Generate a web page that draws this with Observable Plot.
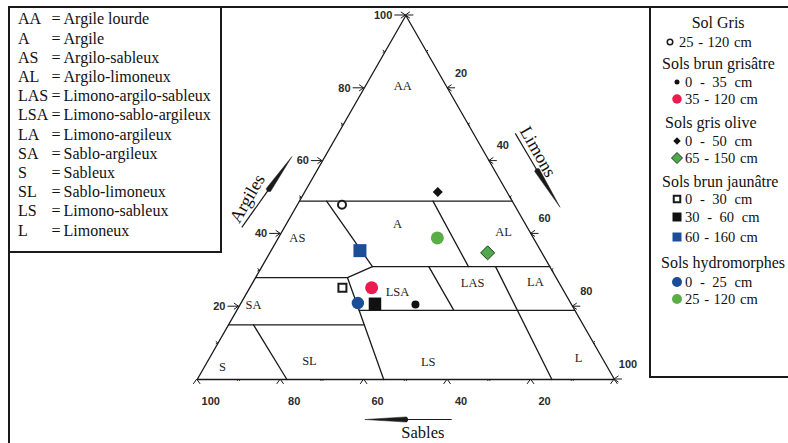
<!DOCTYPE html>
<html lang="fr">
<head>
<meta charset="utf-8">
<script src="https://cdn.jsdelivr.net/npm/d3@7"></script>
<script src="https://cdn.jsdelivr.net/npm/@observablehq/plot@0.6"></script>
<style>
  html, body { margin:0; padding:0; background:#fff; }
  #wrap { position:relative; width:788px; height:443px; overflow:hidden; font-family:"Liberation Serif","Times New Roman",serif; color:#111; }
  #chart { position:absolute; left:0; top:0; }
  .rule { position:absolute; background:#1a1a1a; }
  #legL { position:absolute; left:10px; top:8px; width:210px; box-sizing:border-box; padding:1.4px 0 0 8px; font-size:16px; line-height:19.2px; white-space:nowrap; }
  #legL .ab { display:inline-block; width:33.5px; }
  #legL .nm { margin-left:3px; }
  .lr { position:absolute; white-space:nowrap; display:flex; align-items:center; height:18px; line-height:18px; }
  .lh { font-size:16px; }
  .li { font-size:14.5px; }
  .li svg { display:block; flex:none; }
</style>
</head>
<body>
<div id="wrap">
  <div id="chart"></div>
  <div class="rule" style="left:8px;top:6px;width:780px;height:2px"></div>
  <div class="rule" style="left:8px;top:6px;width:2px;height:437px"></div>
  <div class="rule" style="left:220px;top:6px;width:2px;height:247px"></div>
  <div class="rule" style="left:8px;top:251px;width:214px;height:2px"></div>
  <div class="rule" style="left:649px;top:6px;width:2px;height:372px"></div>
  <div class="rule" style="left:649px;top:376px;width:139px;height:2px"></div>
  <div id="legL"></div>
  <div id="legR"></div>
</div>
<script>
// ---------------- DATA ----------------
// Texture classes (triangle regions)
const soilClasses = ["AA","A","AS","AL","LAS","LSA","LA","SA","S","SL","LS","L"];
const soilClassNames = ["Argile lourde","Argile","Argilo-sableux","Argilo-limoneux","Limono-argilo-sableux",
  "Limono-sablo-argileux","Limono-argileux","Sablo-argileux","Sableux","Sablo-limoneux","Limono-sableux","Limoneux"];
// composition (% sable, % limon, % argile) where each class label sits
const classLabelSable  = [10.5, 30.7, 56.5,  6.4, 20.7, 40.0,  5.5, 76.2, 92.3, 70.5, 42.3,  5.7];
const classLabelLimon  = [ 9.0, 26.7,  4.5, 53.2, 52.7, 36.0, 67.6,  3.2,  4.4, 24.3, 53.0, 88.5];
const classLabelArgile = [80.5, 42.6, 39.0, 40.4, 26.6, 24.0, 26.9, 20.6,  3.3,  5.2,  4.7,  5.8];

// Class boundaries: polylines of [sable, limon, argile]
const boundaryLines = [
  [[51, 0, 49], [0, 51, 49]],
  [[44.5, 6.5, 49], [42.5, 26.5, 31], [50, 22, 28]],
  [[72, 0, 28], [50, 22, 28], [55.3, 44.7, 0]],
  [[42.5, 26.5, 31], [0, 69, 31]],
  [[19, 32, 49], [19.5, 49.5, 31]],
  [[29, 40, 31], [29, 52, 19]],
  [[13, 56, 31], [15, 85, 0]],
  [[51.7, 29.3, 19], [0, 81, 19]],
  [[85, 0, 15], [52.5, 32.5, 15]],
  [[79, 6, 15], [78.5, 21.5, 0]]
];
const triangleOutline = [[100, 0, 0], [0, 100, 0], [0, 0, 100], [100, 0, 0]];

// Soil samples
const groupNames = ["Sol Gris","Sols brun grisâtre","Sols gris olive","Sols brun jaunâtre","Sols hydromorphes"];
const sampleGroup  = [0, 1, 1, 2, 2, 3, 3, 3, 4, 4];
const sampleDepth  = ["25 - 120 cm","0 - 35 cm","35 - 120 cm","0 - 50 cm","65 - 150 cm",
                      "0 - 30 cm","30 - 60 cm","60 - 160 cm","0 - 25 cm","25 - 120 cm"];
const sampleArgile = [48.0, 20.6, 25.2, 51.5, 34.8, 25.2, 20.8, 35.4, 21.0, 38.9];
const sampleLimon  = [10.7, 42.0, 29.2, 31.9, 52.2, 22.2, 32.2, 21.3, 28.0, 38.1];
const sampleSable  = [41.3, 37.4, 45.6, 16.6, 13.0, 52.6, 47.0, 43.3, 51.0, 23.0];

// Axis ticks
const majorTicks = [0, 20, 40, 60, 80, 100];
const tickLabels = [20, 40, 60, 80, 100];
const minorTicks = [10, 30, 50, 70, 90];
const axisTitles = ["Argiles", "Limons", "Sables"];

// ---------------- STYLES ----------------
const ink = "#1a1a1a";
const diamond = d3.symbolDiamond2 || d3.symbolDiamond;
// size = diameter / side / diagonal in px
const sampleStyle = [
  {type:"circle",  fill:"white",   stroke:ink, sw:2, size:8,    lsize:5.5, lsw:1.5},
  {type:"circle",  fill:"#111",    size:8,    lsize:5},
  {type:"circle",  fill:"#ec1a4f", size:13,   lsize:9.5},
  {type:"diamond", fill:"#111",    size:10,   lsize:7.5},
  {type:"diamond", fill:"#4fa84a", stroke:"#1e3a1e", sw:1, size:14, lsize:11, lsw:1},
  {type:"square",  fill:"white",   stroke:ink, sw:2, size:8,    lsize:6.5, lsw:2},
  {type:"square",  fill:"#111",    size:12.5, lsize:9},
  {type:"square",  fill:"#1c4e96", size:13,   lsize:9},
  {type:"circle",  fill:"#1c4e96", size:12.5, lsize:10},
  {type:"circle",  fill:"#5bad46", size:13,   lsize:10}
];
const plotR = st => st.type === "circle" ? st.size / 2 : st.type === "square" ? st.size / Math.sqrt(Math.PI) : st.size / (1.2525 * Math.sqrt(Math.PI));
const plotSymbol = st => st.type === "diamond" ? diamond : st.type;
const d3Symbol = st => st.type === "circle" ? d3.symbolCircle : st.type === "square" ? d3.symbolSquare : diamond;
const d3Size = st => st.type === "circle" ? Math.PI * (st.lsize/2) ** 2 : st.type === "square" ? st.lsize ** 2 : (st.lsize / 1.2525) ** 2;

// ---------------- TERNARY -> CARTESIAN ----------------
const tx = (s, l, a) => l + a / 2;   // horizontal position (0..100)
const ty = (s, l, a) => a;           // vertical position (argile)

// ---------------- LEFT LEGEND ----------------
const legL = document.getElementById("legL");
soilClasses.forEach((c, i) => {
  const row = document.createElement("div");
  row.innerHTML = `<span class="ab">${c}</span>=<span class="nm">${soilClassNames[i]}</span>`;
  legL.appendChild(row);
});

// ---------------- RIGHT LEGEND ----------------
const legendRowY = [23.3, 41.7, 64.3, 81.7, 99, 123.3, 141, 158.3, 181.7, 199.3, 216.7, 237.3, 262.7, 281.7, 299.3];
const headingX = [691.7, 662, 665, 662, 661];
const legR = document.getElementById("legR");
let row = 0;
groupNames.forEach((g, gi) => {
  const h = document.createElement("div");
  h.className = "lr lh";
  h.style.left = headingX[gi] + "px";
  h.style.top = (legendRowY[row++] - 9) + "px";
  h.textContent = g;
  legR.appendChild(h);
  sampleGroup.forEach((sg, i) => {
    if (sg !== gi) return;
    const st = sampleStyle[i];
    const cx = gi === 0 ? 669.5 : 676.5;
    const txX = gi === 0 ? 679 : 685;
    const d = document.createElement("div");
    d.className = "lr li";
    d.style.left = (cx - 7) + "px";
    d.style.top = (legendRowY[row++] - 9) + "px";
    const path = d3.symbol(d3Symbol(st), d3Size(st))();
    d.innerHTML = `<svg width="14" height="14"><path transform="translate(7,7)" d="${path}" fill="${st.fill}" stroke="${st.stroke || 'none'}" stroke-width="${st.lsw || 0}"/></svg>` +
      `<span style="margin-left:${txX - cx - 7}px;word-spacing:${sampleDepth[i].length <= 10 ? 4 : 1}px">${sampleDepth[i]}</span>`;
    legR.appendChild(d);
  });
});

// ---------------- DECORATIONS (ticks, axis titles, arrows) ----------------
function decorations(index, scales) {
  const P = (s, l, a) => [scales.x(tx(s, l, a)), scales.y(ty(s, l, a))];
  const BL = P(100, 0, 0), BR = P(0, 100, 0), AP = P(0, 0, 100);
  const g = d3.create("svg:g");
  const line = (pts, sw = 1) => g.append("path").attr("d", d3.line()(pts))
      .attr("fill", "none").attr("stroke", ink).attr("stroke-width", sw);
  const chevron = (p, dir, wing, stem) => {
    const [dx, dy] = dir, a = 35 * Math.PI / 180;
    const rot = t => [dx * Math.cos(t) - dy * Math.sin(t), dx * Math.sin(t) + dy * Math.cos(t)];
    const w1 = rot(a), w2 = rot(-a);
    line([[p[0] - wing * w1[0], p[1] - wing * w1[1]], p, [p[0] - wing * w2[0], p[1] - wing * w2[1]]]);
    if (stem) line([[p[0] - stem * dx, p[1] - stem * dy], p]);
  };
  const label = (p, dx, dy, text, anchor) => g.append("text")
      .attr("x", p[0] + dx).attr("y", p[1] + dy).attr("dy", "0.35em")
      .attr("text-anchor", anchor).attr("font-family", "'Liberation Sans', Arial, sans-serif")
      .attr("font-weight", "bold").attr("font-size", 11).attr("fill", "#2b2b2b").text(text);

  // Argiles axis (left edge)
  for (const v of majorTicks) if (v > 0) chevron(P(100 - v, 0, v), [1, 0], 5.5, 11);
  for (const v of tickLabels) label(P(100 - v, 0, v), -13, 0, v, "end");
  for (const v of minorTicks) chevron(P(100 - v, 0, v), [1, 0], 2.2, 0);
  // Limons axis (right edge)
  for (const v of majorTicks) chevron(P(0, v, 100 - v), [-1, 0], 5.5, 8);
  for (const v of tickLabels) label(P(0, v, 100 - v), 14, -15, v, "middle");
  for (const v of minorTicks) chevron(P(0, v, 100 - v), [-1, 0], 2.2, 0);
  // Sables axis (bottom edge)
  for (const v of majorTicks) chevron(P(v, 100 - v, 0), [0, -1], 6, 0);
  for (const v of tickLabels) label(P(v, 100 - v, 0), 14, 22, v, "middle");
  for (const v of minorTicks) chevron(P(v, 100 - v, 0), [0, -1], 2.2, 0);

  // axis titles and direction arrows, placed relative to each edge
  const along = (A, B, t, off) => {
    const ux = B[0] - A[0], uy = B[1] - A[1], L = Math.hypot(ux, uy);
    return [A[0] + t * ux + off * uy / L, A[1] + t * uy - off * ux / L];
  };
  const arrow = (A, B, tail, base, tip) => {
    const pT = along(A, B, ...tail), pB = along(A, B, ...base), pP = along(A, B, ...tip);
    line([pT, pB], 1.2);
    const dx = pP[0] - pB[0], dy = pP[1] - pB[1], L = Math.hypot(dx, dy), hw = 2.6;
    const n = [-dy / L * hw, dx / L * hw];
    g.append("path").attr("d", `M${pB[0] + n[0]},${pB[1] + n[1]}Q${pB[0] - dx / L * 3},${pB[1] - dy / L * 3} ${pB[0] - n[0]},${pB[1] - n[1]}L${pP[0]},${pP[1]}Z`)
      .attr("fill", ink).attr("stroke", ink).attr("stroke-width", 0.5);
  };
  const title = (A, B, t, off, text, rotate, size) => {
    const p = along(A, B, t, off);
    g.append("text").attr("transform", `translate(${p[0]},${p[1]}) rotate(${rotate})`)
      .attr("dy", "0.35em").attr("text-anchor", "middle")
      .attr("font-family", "'Liberation Serif', 'Times New Roman', serif")
      .attr("font-size", size).attr("fill", "#111").text(text);
  };
  const ang = (A, B) => Math.atan2(B[1] - A[1], B[0] - A[0]) * 180 / Math.PI;
  title(BL, AP, 0.433, 46.4, axisTitles[0], ang(BL, AP), 18);
  arrow(BL, AP, [0.367, 36.3], [0.476, 31.8], [0.573, 28]);
  title(AP, BR, 0.44, 47.5, axisTitles[1], ang(AP, BR), 18);
  arrow(AP, BR, [0.375, 36.5], [0.477, 37], [0.581, 38.6]);
  title(BR, BL, 0.458, 53.7, axisTitles[2], 0, 16.5);
  arrow(BR, BL, [0.389, 40.5], [0.497, 40.5], [0.597, 40.5]);
  return g.node();
}

// ---------------- PLOT ----------------
const boundaryPoints = boundaryLines.flatMap((pl, id) => pl.map(p => ({id, s: p[0], l: p[1], a: p[2]})));
const outlinePoints = triangleOutline.map(p => ({s: p[0], l: p[1], a: p[2]}));
const classIdx = d3.range(soilClasses.length);
const sampleIdx = d3.range(sampleArgile.length);

const chart = Plot.plot({
  width: 788,
  height: 443,
  marginLeft: 196.7,
  marginRight: 174,
  marginTop: 15,
  marginBottom: 64,
  x: {domain: [0, 100], axis: null},
  y: {domain: [0, 100], axis: null},
  style: {background: "transparent", overflow: "visible"},
  marks: [
    Plot.line(outlinePoints, {x: d => tx(d.s, d.l, d.a), y: d => ty(d.s, d.l, d.a), stroke: ink, strokeWidth: 1.3}),
    Plot.line(boundaryPoints, {x: d => tx(d.s, d.l, d.a), y: d => ty(d.s, d.l, d.a), z: "id", stroke: ink, strokeWidth: 1.3}),
    Plot.text(classIdx, {
      x: i => tx(classLabelSable[i], classLabelLimon[i], classLabelArgile[i]),
      y: i => ty(classLabelSable[i], classLabelLimon[i], classLabelArgile[i]),
      text: i => soilClasses[i],
      fontFamily: "'Liberation Serif', 'Times New Roman', serif",
      fontSize: 12.5, fill: "#222"
    }),
    ...sampleIdx.map(i => {
      const st = sampleStyle[i];
      return Plot.dot([i], {
        x: j => tx(sampleSable[j], sampleLimon[j], sampleArgile[j]),
        y: j => ty(sampleSable[j], sampleLimon[j], sampleArgile[j]),
        r: plotR(st), symbol: plotSymbol(st),
        fill: st.fill, stroke: st.stroke || "none", strokeWidth: st.sw || 0
      });
    }),
    decorations
  ]
});
document.getElementById("chart").appendChild(chart);
</script>
</body>
</html>
